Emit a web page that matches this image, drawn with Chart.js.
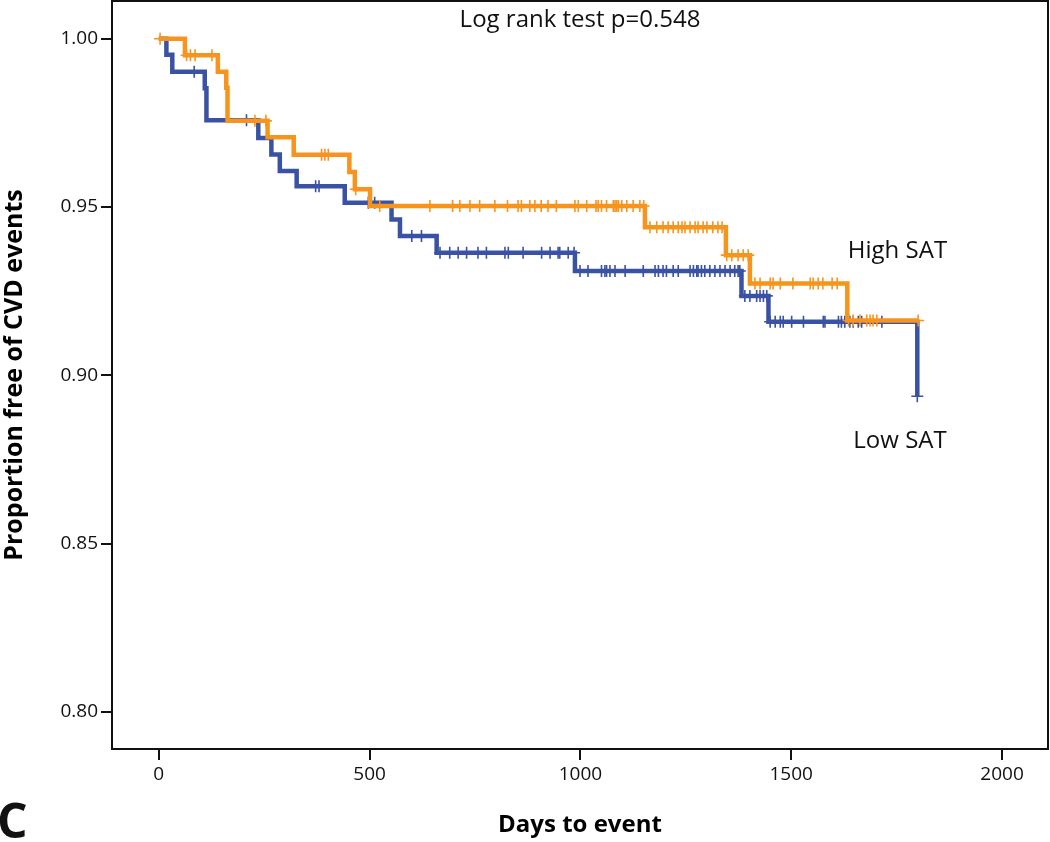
<!DOCTYPE html>
<html>
<head>
<meta charset="utf-8">
<script src="https://cdn.jsdelivr.net/npm/chart.js@4.4.1/dist/chart.umd.min.js"></script>
<style>
  body { margin: 0; background: #fff; }
</style>
</head>
<body>
<canvas id="myChart" width="1050" height="842"></canvas>
<script>
// Kaplan-Meier steps (days, proportion free of CVD events)
let highT = [0, 62, 140, 160, 163, 258, 320, 452, 465, 501, 1153, 1345, 1402, 1633, 1801]
let highS = [1.000, 0.9951, 0.9902, 0.9854, 0.9756, 0.9707, 0.9655, 0.9604, 0.9553, 0.9503, 0.9440, 0.9357, 0.9273, 0.9163, 0.9163]
let highCensor = [3, 66, 75, 86, 126, 228, 254, 386, 394, 402, 467, 524, 643, 697, 714, 738, 761, 797, 827, 852, 860, 880,
  892, 907, 923, 943, 987, 995, 1015, 1037, 1042, 1050, 1062, 1078, 1082, 1086, 1090, 1098, 1110, 1125, 1141, 1150,
  1165, 1181, 1196, 1208, 1220, 1232, 1241, 1248, 1260, 1272, 1279, 1291, 1300, 1314, 1326, 1336, 1347, 1359, 1374,
  1386, 1398, 1414, 1426, 1450, 1457, 1474, 1504, 1545, 1552, 1564, 1575, 1597, 1609, 1636, 1647, 1663, 1679, 1687,
  1694, 1703, 1801]

let lowT = [0, 18, 32, 109, 113, 236, 267, 287, 327, 441, 552, 572, 659, 987, 1382, 1446, 1799]
let lowS = [1.000, 0.9952, 0.9902, 0.9853, 0.9758, 0.9705, 0.9656, 0.9607, 0.9562, 0.9513, 0.9463, 0.9414, 0.9364, 0.9310, 0.9236, 0.9159, 0.8938]
let lowCensor = [84, 208, 372, 380, 497, 512, 600, 623, 667, 690, 710, 730, 757, 777, 821, 829, 864, 908, 928, 947, 951,
  971, 985, 999, 1018, 1050, 1058, 1062, 1070, 1082, 1106, 1149, 1177, 1185, 1196, 1204, 1220, 1232, 1260, 1268, 1276,
  1279, 1287, 1295, 1307, 1319, 1331, 1343, 1355, 1366, 1374, 1378, 1390, 1402, 1418, 1426, 1434, 1442, 1450, 1462,
  1474, 1481, 1501, 1529, 1576, 1580, 1612, 1619, 1627, 1639, 1647, 1659, 1667, 1715, 1799]

let xTicks = [0, 500, 1000, 1500, 2000]
let yTicks = [0.80, 0.85, 0.90, 0.95, 1.00]
let titleText = 'Log rank test p=0.548'

const orange = '#F7941E'
const blue = '#3A52A3'

function steps(t, s) {
    return t.map((v, i) => ({ x: v, y: s[i] }))
}
// survival value of the curve at a censor time
function survAt(t, s, day) {
    let v = s[0]
    for (let i = 0; i < t.length; i++) {
        if (t[i] <= day) v = s[i]
    }
    return v
}
function censors(t, s, c) {
    return c.map(d => ({ x: d, y: survAt(t, s, d) }))
}

const annotate = {
    id: 'annotate',
    afterDraw(chart) {
        const ctx = chart.ctx
        const a = chart.chartArea
        const sx = chart.scales.x, sy = chart.scales.y
        ctx.save()
        ctx.strokeStyle = '#111'
        ctx.lineWidth = 2
        ctx.strokeRect(a.left, a.top, a.right - a.left, a.bottom - a.top)
        ctx.fillStyle = '#111'
        ctx.textAlign = 'center'
        ctx.textBaseline = 'middle'
        ctx.font = '24px "Open Sans"'
        ctx.fillText(titleText, (a.left + a.right) / 2, 20)
        ctx.fillText('High SAT', sx.getPixelForValue(1752), sy.getPixelForValue(0.9369))
        ctx.fillText('Low SAT', sx.getPixelForValue(1758), sy.getPixelForValue(0.8805))
        ctx.textAlign = 'left'
        ctx.textBaseline = 'alphabetic'
        ctx.font = 'bold 48px "Open Sans"'
        ctx.fillText('C', -3, 838)
        ctx.restore()
    }
}

var ctx = document.getElementById('myChart').getContext('2d');
var kmChart = new Chart(ctx, {
    type: 'scatter',
    data: {
        datasets: [{
            label: 'High SAT',
            data: steps(highT, highS),
            showLine: true,
            stepped: true,
            borderColor: orange,
            borderWidth: 4.5,
            pointRadius: 0
        }, {
            label: 'High SAT censored',
            data: censors(highT, highS, highCensor),
            pointStyle: 'cross',
            pointRadius: 6,
            pointBorderWidth: 1.6,
            borderColor: orange
        }, {
            label: 'Low SAT',
            data: steps(lowT, lowS),
            showLine: true,
            stepped: true,
            borderColor: blue,
            borderWidth: 4.5,
            pointRadius: 0
        }, {
            label: 'Low SAT censored',
            data: censors(lowT, lowS, lowCensor),
            pointStyle: 'cross',
            pointRadius: 6,
            pointBorderWidth: 1.6,
            borderColor: blue
        }]
    },
    options: {
        responsive: false,
        animation: false,
        devicePixelRatio: 1,
        layout: { autoPadding: false, padding: { top: 1, right: 2, left: 0, bottom: 0 } },
        plugins: {
            legend: { display: false },
            tooltip: { enabled: false }
        },
        scales: {
            x: {
                type: 'linear',
                min: -111,
                max: 2109,
                afterBuildTicks: s => { s.ticks = xTicks.map(v => ({ value: v })) },
                afterFit: s => { s.height = 93; s.paddingLeft = 0; s.paddingRight = 0 },
                border: { display: false },
                grid: { drawOnChartArea: false, drawTicks: true, tickLength: 11, color: '#111', lineWidth: 2 },
                ticks: {
                    color: '#111',
                    padding: 3,
                    font: { family: 'Open Sans', size: 19 },
                    callback: v => String(v)
                },
                title: {
                    display: true,
                    text: 'Days to event',
                    color: '#000',
                    padding: { top: 0, bottom: 2 },
                    font: { family: 'Open Sans', size: 24, weight: 'bold' }
                }
            },
            y: {
                type: 'linear',
                min: 0.789,
                max: 1.0112,
                afterBuildTicks: s => { s.ticks = yTicks.map(v => ({ value: v })) },
                afterFit: s => { s.width = 112; s.paddingTop = 0; s.paddingBottom = 0 },
                border: { display: false },
                grid: { drawOnChartArea: false, drawTicks: true, tickLength: 11, color: '#111', lineWidth: 2 },
                ticks: {
                    color: '#111',
                    padding: 3,
                    font: { family: 'Open Sans', size: 19 },
                    callback: v => v.toFixed(2)
                },
                title: {
                    display: true,
                    text: 'Proportion free of CVD events',
                    color: '#000',
                    padding: { top: 0, bottom: 0 },
                    font: { family: 'Open Sans', size: 25, weight: 'bold' }
                }
            }
        }
    },
    plugins: [annotate]
});
</script>
</body>
</html>
